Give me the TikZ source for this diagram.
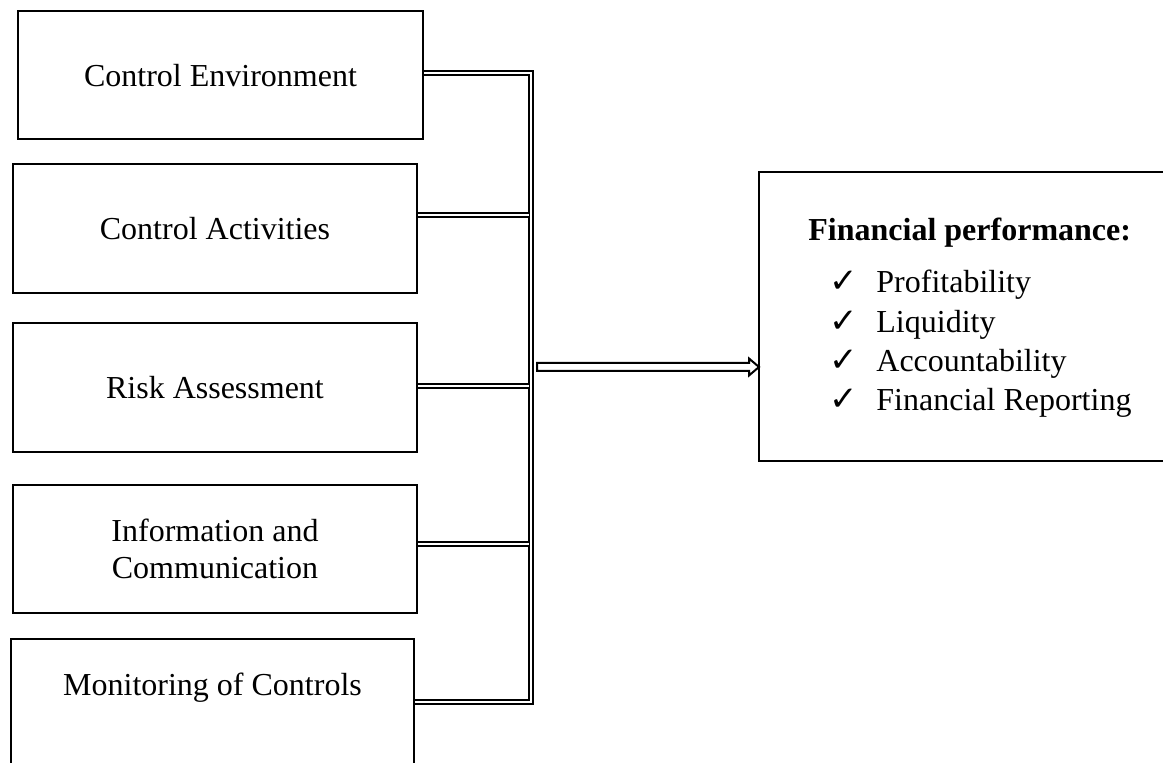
\documentclass[tikz,border=0pt]{standalone}
\usepackage{fontspec}
\setmainfont{Liberation Serif}
\newfontfamily\symfont{DejaVu Sans}
\usetikzlibrary{calc}
\begin{document}
\begin{tikzpicture}[x=0.5pt,y=-0.5pt,
  box/.style={draw, line width=1pt, inner sep=0pt, align=center,
    font=\fontsize{16}{18.8}\selectfont},
  dbl/.style={double, double distance=1pt, line width=1pt, line join=miter},
  txt/.style={anchor=base west, inner sep=0pt, font=\fontsize{16}{18.8}\selectfont},
  chk/.style={anchor=base west, inner sep=0pt, font=\symfont\fontsize{17}{19}\selectfont},
  arrowline/.style={line width=1pt, line join=miter}]
\useasboundingbox (0,0) rectangle (1163,763);

\node[box, minimum width=202.5pt, minimum height=64pt, text height=15pt, text depth=3.5pt] (b1) at (220.5,75) {Control Environment};
\node[box, minimum width=202pt, minimum height=64.5pt] (b2) at (215,228.5) {Control Activities};
\node[box, minimum width=202pt, minimum height=64.5pt] (b3) at (215,387.5) {Risk Assessment};
\node[box, minimum width=202pt, minimum height=64pt] (b4) at (215,549) {Information and\\Communication};
\node[box, minimum width=201.5pt, minimum height=64.5pt] (b5) at (212.5,703.5) {Monitoring of Controls\\[-5pt]\strut};

\node[draw, line width=1pt, inner sep=0pt, minimum width=205.5pt, minimum height=144.5pt] (fin) at (964.5,316.5) {};
\node[txt] (head) at (808,241) {\textbf{Financial performance:}};
\node[chk] (c1) at (829,293) {✓};
\node[txt] (t1) at (876,293) {Profitability};
\node[chk] (c2) at (829,332.3) {✓};
\node[txt] (t2) at (876,332.3) {Liquidity};
\node[chk] (c3) at (829,371.6) {✓};
\node[txt] (t3) at (876,371.6) {Accountability};
\node[chk] (c4) at (829,411) {✓};
\node[txt] (t4) at (876,411) {Financial Reporting};

% connectors
\coordinate (jt) at (531,73);
\coordinate (jb) at (531,702);
\coordinate (j2) at (529,215.5);
\coordinate (j3) at (529,386);
\coordinate (j4) at (529,544);
\draw[dbl] (b1.east |- jt) -- (jt) -- (jb) -- (b5.east |- jb);
\draw[dbl] (b2.east |- j2) -- (j2);
\draw[dbl] (b3.east |- j3) -- (j3);
\draw[dbl] (b4.east |- j4) -- (j4);

% hollow arrow
\coordinate (ja) at (537,367);
\coordinate (tip) at (fin.west |- ja);
\draw[arrowline] ($(ja)+(0,-4)$) -- ($(tip)+(-9,-4)$) -- ($(tip)+(-9,-8.5)$) -- ($(tip)+(1,0)$)
  -- ($(tip)+(-9,8.5)$) -- ($(tip)+(-9,4)$) -- ($(ja)+(0,4)$) -- cycle;
\end{tikzpicture}
\end{document}
